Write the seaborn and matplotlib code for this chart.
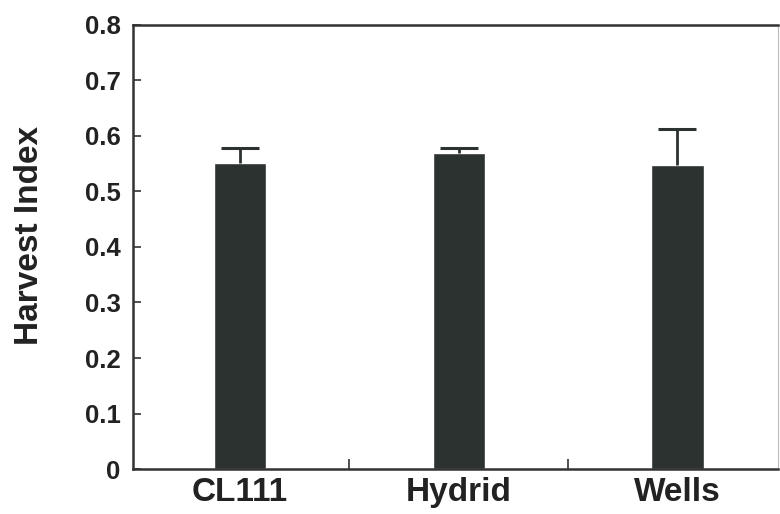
import matplotlib
matplotlib.use("Agg")
import matplotlib.pyplot as plt
import seaborn as sns
import pandas as pd
import numpy as np

categories = ["CL111", "Hydrid", "Wells"]
harvest_index = [0.551, 0.570, 0.548]
upper_err = [0.027, 0.008, 0.065]
yticks = [0, 0.1, 0.2, 0.3, 0.4, 0.5, 0.6, 0.7, 0.8]
ytick_labels = ["0", "0.1", "0.2", "0.3", "0.4", "0.5", "0.6", "0.7", "0.8"]

sns.set_theme(style="white")
plt.rcParams['font.family'] = ['Liberation Sans', 'DejaVu Sans']

df = pd.DataFrame({"cat": categories, "hi": harvest_index})

fig = plt.figure(figsize=(7.8, 5.14), dpi=100)
ax = fig.add_axes([0.1705, 0.0875, 0.827, 0.864])
bar_color = "#2b322f"
sns.barplot(data=df, x="cat", y="hi", color=bar_color, width=0.24,
            errorbar=None, ax=ax, saturation=1)
eb = ax.errorbar(np.arange(len(categories)), harvest_index,
                 yerr=[np.zeros(len(categories)), upper_err],
                 fmt="none", ecolor="#2b322f", elinewidth=2, capsize=14, capthick=2.2)
# keep only the upper cap
eb[1][0].set_visible(False)

ax.set_xlim(-0.49, 2.46)
ax.set_ylim(0, 0.8)
ax.set_yticks(yticks)
ax.set_yticklabels(ytick_labels, fontsize=18.5, fontweight="bold", color="#222222")
ax.set_xticks(range(len(categories)))
ax.set_xticklabels(categories, fontsize=24, fontweight="bold", color="#222222")
ax.set_xticks([0.5, 1.5], minor=True)
ax.tick_params(axis="x", which="major", length=0, pad=6)
ax.tick_params(axis="x", which="minor", direction="in", length=7, width=1.2, color="#333333", bottom=True)
ax.tick_params(axis="y", which="major", direction="in", length=6, width=1.2, color="#333333", left=True, pad=9)
ax.set_xlabel("")
ax.set_ylabel("Harvest Index", fontsize=24, fontweight="bold", color="#222222")
ax.yaxis.set_label_coords(-0.136, 0.527)

for side in ["left", "bottom", "top"]:
    ax.spines[side].set_visible(True)
    ax.spines[side].set_linewidth(1.8)
    ax.spines[side].set_color("#333333")
ax.spines["right"].set_visible(True)
ax.spines["right"].set_linewidth(0.8)
ax.spines["right"].set_color("#bbbbbb")

fig.savefig("out.png", dpi=100)
